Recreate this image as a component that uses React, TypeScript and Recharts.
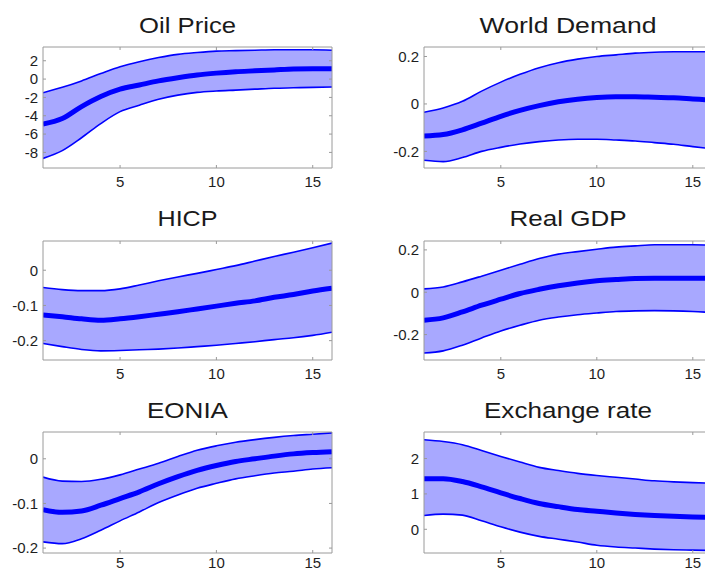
import React from 'react';
import { ComposedChart, Area, Line, XAxis, YAxis } from 'recharts';

const steps = [1, 2, 3, 4, 5, 6, 7, 8, 9, 10, 11, 12, 13, 14, 15, 16];
const xTicks = [5, 10, 15];

const oilHi = [-1.5, -0.9, -0.2, 0.6, 1.35, 1.9, 2.35, 2.7, 2.9, 3.05, 3.1, 3.15, 3.2, 3.2, 3.2, 3.15];
const oilMed = [-4.9, -4.3, -3.0, -1.9, -1.1, -0.65, -0.2, 0.15, 0.45, 0.65, 0.8, 0.9, 1.0, 1.1, 1.13, 1.13];
const oilLo = [-8.65, -7.8, -6.4, -4.85, -3.55, -2.85, -2.2, -1.75, -1.45, -1.3, -1.2, -1.1, -1.0, -0.95, -0.9, -0.87];
const oilTicks = [-8, -6, -4, -2, 0, 2];

const wdHi = [-0.035, -0.017, 0.011, 0.054, 0.092, 0.125, 0.153, 0.174, 0.189, 0.2, 0.207, 0.214, 0.218, 0.22, 0.22, 0.22];
const wdMed = [-0.135, -0.129, -0.109, -0.081, -0.052, -0.027, -0.007, 0.009, 0.02, 0.027, 0.03, 0.03, 0.028, 0.026, 0.021, 0.016];
const wdLo = [-0.237, -0.243, -0.226, -0.2, -0.183, -0.169, -0.159, -0.152, -0.149, -0.149, -0.152, -0.156, -0.163, -0.17, -0.18, -0.189];
const wdTicks = [-0.2, 0, 0.2];

const hicpHi = [-0.049, -0.055, -0.058, -0.058, -0.053, -0.042, -0.03, -0.019, -0.009, 0.002, 0.013, 0.026, 0.039, 0.051, 0.064, 0.077];
const hicpMed = [-0.127, -0.132, -0.138, -0.142, -0.138, -0.132, -0.125, -0.118, -0.11, -0.102, -0.094, -0.087, -0.077, -0.069, -0.059, -0.051];
const hicpLo = [-0.208, -0.217, -0.225, -0.229, -0.228, -0.226, -0.224, -0.221, -0.217, -0.213, -0.208, -0.203, -0.197, -0.192, -0.185, -0.176];
const hicpTicks = [-0.2, -0.1, 0];

const gdpHi = [0.016, 0.025, 0.049, 0.076, 0.104, 0.132, 0.159, 0.18, 0.192, 0.203, 0.213, 0.219, 0.224, 0.224, 0.224, 0.222];
const gdpMed = [-0.132, -0.121, -0.093, -0.061, -0.033, -0.006, 0.014, 0.031, 0.044, 0.054, 0.06, 0.065, 0.066, 0.066, 0.066, 0.065];
const gdpLo = [-0.287, -0.277, -0.25, -0.216, -0.183, -0.156, -0.132, -0.117, -0.106, -0.098, -0.091, -0.088, -0.087, -0.088, -0.091, -0.096];
const gdpTicks = [-0.2, 0, 0.2];

const eoniaHi = [-0.041, -0.05, -0.051, -0.046, -0.036, -0.023, -0.01, 0.005, 0.019, 0.029, 0.037, 0.043, 0.048, 0.052, 0.055, 0.058];
const eoniaMed = [-0.114, -0.12, -0.117, -0.104, -0.089, -0.074, -0.056, -0.04, -0.026, -0.015, -0.006, 0, 0.006, 0.011, 0.014, 0.016];
const eoniaLo = [-0.186, -0.19, -0.179, -0.16, -0.139, -0.119, -0.098, -0.081, -0.066, -0.055, -0.045, -0.038, -0.032, -0.028, -0.023, -0.02];
const eoniaTicks = [-0.2, -0.1, 0];

const fxHi = [2.53, 2.48, 2.39, 2.23, 2.06, 1.9, 1.75, 1.66, 1.58, 1.52, 1.47, 1.42, 1.37, 1.34, 1.32, 1.3];
const fxMed = [1.43, 1.43, 1.35, 1.2, 1.03, 0.87, 0.73, 0.64, 0.56, 0.51, 0.46, 0.42, 0.39, 0.37, 0.35, 0.34];
const fxLo = [0.39, 0.43, 0.4, 0.24, 0.07, -0.08, -0.2, -0.28, -0.36, -0.45, -0.5, -0.53, -0.56, -0.58, -0.59, -0.6];
const fxTicks = [0, 1, 2];

const titles = ['Oil Price', 'World Demand', 'HICP', 'Real GDP', 'EONIA', 'Exchange rate'];

// layout / style
const FONT = '"Liberation Sans", Arial, Helvetica, sans-serif';
const COL_LEFT = [0, 350];
const Y_W = [43, 74];
const PLOT_W = [289, 288];
const ROW_TOP = [47, 241, 432];
const ROW_H = [121, 119, 121];
const ROW_TICK_MARGIN = [11, 11, 7];
const TITLE_BASE = [33, 226, 418];
const TITLE_CX = [187.5, 568];
const TITLE_LEN = [97, 177, 60, 117, 81, 168];
const BAND = '#a8a8ff';
const LINE = '#0000ff';
const BOX = '#9a9a9a';

type PanelProps = {
  lo: number[];
  med: number[];
  hi: number[];
  domain: [number, number];
  ticks: number[];
  col: number;
  row: number;
};

function Panel({ lo, med, hi, domain, ticks, col, row }: PanelProps) {
  const data = steps.map((x, i) => ({ x, lo: lo[i], med: med[i], hi: hi[i], band: [lo[i], hi[i]] }));
  const mt = 4; // plus 1px top axis
  const mr = 9; // plus 1px right axis
  const xh = 30;
  const yw = Y_W[col];
  const w = yw + PLOT_W[col] + mr + 1;
  const h = mt + 1 + ROW_H[row] + xh;
  const tickStyle = { fill: '#1e1e1e', fontSize: 15, fontFamily: FONT };
  return (
    <div style={{ position: 'absolute', left: COL_LEFT[col], top: ROW_TOP[row] - mt - 1, width: w, height: h }}>
      <ComposedChart width={w} height={h} data={data} margin={{ top: mt, right: mr, bottom: 0, left: 0 }}>
        <XAxis
          xAxisId="b"
          dataKey="x"
          type="number"
          domain={[1, 16]}
          ticks={xTicks}
          allowDataOverflow
          height={xh}
          tickSize={-3}
          tickMargin={ROW_TICK_MARGIN[row]}
          stroke={BOX}
          tick={tickStyle}
        />
        <XAxis
          xAxisId="t"
          orientation="top"
          dataKey="x"
          type="number"
          domain={[1, 16]}
          ticks={xTicks}
          allowDataOverflow
          height={1}
          tickSize={-3}
          tickFormatter={() => ''}
          stroke={BOX}
        />
        <YAxis
          yAxisId="l"
          type="number"
          domain={domain}
          ticks={ticks}
          allowDataOverflow
          width={yw}
          tickSize={-3}
          tickMargin={8}
          stroke={BOX}
          tick={tickStyle}
          interval={0}
        />
        <YAxis
          yAxisId="r"
          orientation="right"
          type="number"
          domain={domain}
          ticks={ticks}
          allowDataOverflow
          width={1}
          tickSize={-3}
          tickFormatter={() => ''}
          stroke={BOX}
          interval={0}
        />
        <Area
          xAxisId="b"
          yAxisId="l"
          dataKey="band"
          type="monotone"
          stroke="none"
          fill={BAND}
          fillOpacity={1}
          isAnimationActive={false}
          activeDot={false}
        />
        <Line xAxisId="b" yAxisId="l" dataKey="lo" type="monotone" stroke={LINE} strokeWidth={1.6} dot={false} activeDot={false} isAnimationActive={false} />
        <Line xAxisId="b" yAxisId="l" dataKey="hi" type="monotone" stroke={LINE} strokeWidth={1.6} dot={false} activeDot={false} isAnimationActive={false} />
        <Line xAxisId="b" yAxisId="l" dataKey="med" type="monotone" stroke={LINE} strokeWidth={5} dot={false} activeDot={false} isAnimationActive={false} />
        <Line xAxisId="t" yAxisId="r" dataKey="med" type="monotone" stroke="none" strokeWidth={0} dot={false} activeDot={false} isAnimationActive={false} />
      </ComposedChart>
    </div>
  );
}

export default function App() {
  return (
    <div style={{ position: 'absolute', left: 0, top: 0, width: 705, height: 572, overflow: 'hidden', background: '#fff', fontFamily: FONT }}>
      <Panel lo={oilLo} med={oilMed} hi={oilHi} domain={[-9.7, 3.5]} ticks={oilTicks} col={0} row={0} />
      <Panel lo={wdLo} med={wdMed} hi={wdHi} domain={[-0.27, 0.24]} ticks={wdTicks} col={1} row={0} />
      <Panel lo={hicpLo} med={hicpMed} hi={hicpHi} domain={[-0.255, 0.083]} ticks={hicpTicks} col={0} row={1} />
      <Panel lo={gdpLo} med={gdpMed} hi={gdpHi} domain={[-0.32, 0.242]} ticks={gdpTicks} col={1} row={1} />
      <Panel lo={eoniaLo} med={eoniaMed} hi={eoniaHi} domain={[-0.211, 0.06]} ticks={eoniaTicks} col={0} row={2} />
      <Panel lo={fxLo} med={fxMed} hi={fxHi} domain={[-0.67, 2.75]} ticks={fxTicks} col={1} row={2} />
      <svg width={705} height={572} style={{ position: 'absolute', left: 0, top: 0, pointerEvents: 'none' }}>
        {titles.map((t, i) => (
          <text
            key={t}
            x={TITLE_CX[i % 2]}
            y={TITLE_BASE[Math.floor(i / 2)]}
            textAnchor="middle"
            fontFamily={FONT}
            fontSize={22.5}
            fill="#1a1a1a"
            textLength={TITLE_LEN[i]}
            lengthAdjust="spacingAndGlyphs"
          >
            {t}
          </text>
        ))}
      </svg>
    </div>
  );
}
